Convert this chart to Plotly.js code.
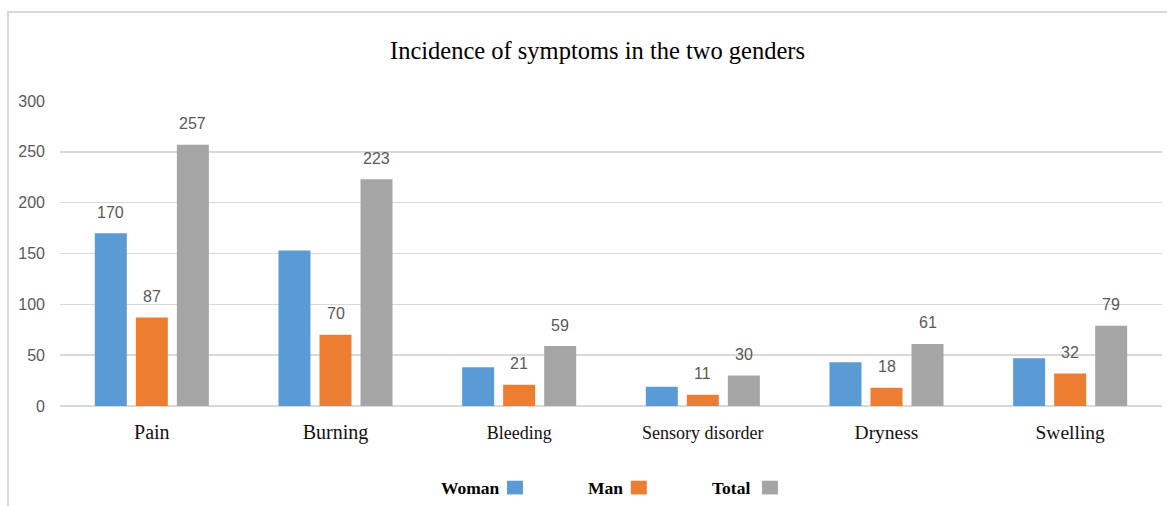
<!DOCTYPE html>
<html>
<head>
<meta charset="utf-8">
<script src="https://cdn.plot.ly/plotly-3.0.1.min.js"></script>
<style>
html,body{margin:0;padding:0;background:#fff;}
#wrap{position:relative;width:1167px;height:506px;}
#chart{width:1167px;height:506px;}
#frame{position:absolute;left:7px;top:11px;width:1160px;height:495px;border-left:2px solid #d9d9d9;border-top:2px solid #d9d9d9;pointer-events:none;}
</style>
</head>
<body>
<div id="wrap"><div id="chart"></div><div id="frame"></div></div>
<script>
const categories = ["Pain", "Burning", "Bleeding", "Sensory disorder", "Dryness", "Swelling"];
const woman = [170, 153, 38, 19, 43, 47];
const man = [87, 70, 21, 11, 18, 32];
const total = [257, 223, 59, 30, 61, 79];
const womanLabels = ["170", "", "", "", "", ""];
const manLabels = ["87", "70", "21", "11", "18", "32"];
const totalLabels = ["257", "223", "59", "30", "61", "79"];
const categoryLabelSizes = [20, 20, 18, 18, 19.5, 19.5];
const seriesNames = ["Woman", "Man", "Total"];
const colors = ["#5b9bd5", "#ed7d31", "#a5a5a5"];
const yTicks = [0, 50, 100, 150, 200, 250, 300];

const seriesVals = [woman, man, total];
const seriesLabels = [womanLabels, manLabels, totalLabels];

const traces = seriesVals.map((v, i) => ({
  type: 'bar', x: categories, y: v, name: seriesNames[i],
  marker: {color: colors[i]}, hoverinfo: 'x+y+name'
}));

const slot = 41;
const annotations = [];
seriesVals.forEach((vals, s) => {
  vals.forEach((v, k) => {
    if (seriesLabels[s][k] === "") return;
    annotations.push({
      x: categories[k], y: v, xref: 'x', yref: 'y',
      text: seriesLabels[s][k], showarrow: false,
      xshift: (s - 1) * slot, yshift: 21, yanchor: 'middle',
      font: {family: 'Liberation Sans Narrow, Arial Narrow, Liberation Sans, sans-serif', size: 16, color: '#595959'}
    });
  });
});

// custom legend: bold text followed by a square
const legTextRight = [0.4011, 0.5127, 0.628];
const legX = [0.4056, 0.518, 0.637];
const legW = 0.0145;
const shapes = [];
seriesNames.forEach((n, i) => {
  annotations.push({
    x: legTextRight[i], y: -0.27, xref: 'paper', yref: 'paper',
    text: '<b>' + n + '</b>', showarrow: false, xanchor: 'right', yanchor: 'middle',
    font: {family: 'Liberation Serif, Times New Roman, serif', size: 17.5, color: '#000'}
  });
  shapes.push({
    type: 'rect', xref: 'paper', yref: 'paper',
    x0: legX[i], x1: legX[i] + legW, y0: -0.29, y1: -0.245,
    fillcolor: colors[i], line: {width: 0}
  });
});

const layout = {
  width: 1167, height: 506,
  margin: {l: 60, r: 5, t: 101, b: 100},
  paper_bgcolor: '#fff', plot_bgcolor: '#fff',
  title: {text: 'Incidence of symptoms in the two genders', x: 0.512, xanchor: 'center', y: 0.9, yref: 'container', yanchor: 'middle',
          font: {family: 'Liberation Serif, Times New Roman, serif', size: 24.5, color: '#000'}},
  barmode: 'group', bargap: 0.33, bargroupgap: 0.22,
  showlegend: false,
  xaxis: {type: 'category', tickvals: categories,
          ticktext: categories.map((c, i) => '<span style="font-size:' + categoryLabelSizes[i] + 'px">' + c + '</span>'),
          tickfont: {family: 'Liberation Serif, Times New Roman, serif', size: 19, color: '#111'},
          ticks: '', showgrid: false, showline: false, ticklabelstandoff: 13},
  yaxis: {range: [0, 300], tickvals: yTicks, ticktext: yTicks.map(String),
          tickfont: {family: 'Liberation Sans Narrow, Arial Narrow, Liberation Sans, sans-serif', size: 16, color: '#595959'},
          gridcolor: '#d9d9d9', gridwidth: 1.5, zeroline: true, zerolinecolor: '#d9d9d9', zerolinewidth: 2,
          showline: false, ticks: '', ticklabelstandoff: 14},
  annotations: annotations, shapes: shapes
};

Plotly.newPlot('chart', traces, layout, {displayModeBar: false, staticPlot: true});
</script>
</body>
</html>
